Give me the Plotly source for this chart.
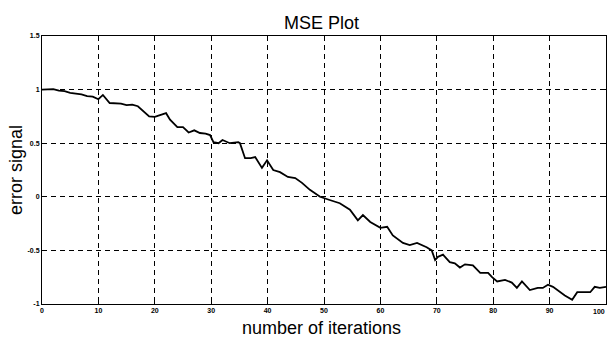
import plotly.graph_objects as go

iterations = [0, 1, 2, 3, 4, 5, 6, 7, 8, 9, 10, 10.8, 12, 13, 14, 15, 16, 17, 18, 19,
              20, 21, 22, 22.7, 24, 25, 26, 27, 28, 29, 29.8, 30.4, 31.3, 32, 33.3, 34.8,
              35.1, 36, 37, 37.8, 38.3, 39, 39.9, 40.4, 41, 42.2, 43.6, 44.9, 46.1, 47.5,
              48, 49.3, 51, 52.8, 54.6, 56, 56.9, 58.2, 60, 61.2, 62.2, 64, 65.2, 66.5,
              68.2, 69.1, 69.7, 70.2, 71.1, 72.3, 73.2, 74.1, 75, 76.4, 77.7, 79.1, 79.8,
              80.7, 82.1, 83.3, 84.2, 85.1, 86.5, 87.9, 88.8, 89.7, 90.6, 91.8, 92.7, 94,
              94.9, 96, 97.2, 98, 98.9, 100]
error_signal = [1.00, 1.00, 1.005, 0.99, 0.985, 0.97, 0.965, 0.955, 0.94, 0.935, 0.91, 0.95,
                0.875, 0.875, 0.87, 0.855, 0.86, 0.845, 0.80, 0.75, 0.745, 0.76, 0.78, 0.72,
                0.65, 0.65, 0.60, 0.62, 0.595, 0.59, 0.576, 0.51, 0.50, 0.53, 0.50, 0.51,
                0.50, 0.36, 0.36, 0.37, 0.33, 0.27, 0.34, 0.30, 0.25, 0.23, 0.185, 0.175,
                0.13, 0.065, 0.045, 0.0, -0.03, -0.06, -0.12, -0.22, -0.17, -0.235, -0.29,
                -0.28, -0.36, -0.43, -0.45, -0.43, -0.47, -0.50, -0.59, -0.56, -0.54, -0.61,
                -0.62, -0.66, -0.63, -0.64, -0.71, -0.71, -0.75, -0.79, -0.775, -0.80, -0.85,
                -0.79, -0.87, -0.85, -0.85, -0.82, -0.84, -0.89, -0.92, -0.96, -0.89, -0.89,
                -0.89, -0.84, -0.85, -0.84]

x_ticks = [0, 10, 20, 30, 40, 50, 60, 70, 80, 90, 100]
y_ticks = [-1, -0.5, 0, 0.5, 1, 1.5]
y_tick_text = ["-1", "-0.5", "0", "0.5", "1", "1.5"]

W, H = 607, 340
L, R, T, B = 42, 1, 36, 36

fig = go.Figure()
fig.add_trace(go.Scatter(x=iterations, y=error_signal, mode="lines",
                         line=dict(color="black", width=1.8), showlegend=False))

tick_font = dict(family="Liberation Sans", size=7, color="black", weight="bold")
axis_common = dict(showline=True, linecolor="black", linewidth=1, mirror="allticks",
                   ticks="inside", ticklen=4, tickcolor="black",
                   showgrid=True, gridcolor="black", gridwidth=1, griddash="5px,4px",
                   zeroline=False, tickfont=tick_font)

fig.update_xaxes(range=[0, 100], tickvals=x_ticks, ticktext=[str(v) for v in x_ticks],
                 **axis_common)
fig.update_yaxes(range=[-1, 1.5], tickvals=y_ticks, ticktext=y_tick_text, **axis_common)

def px_to_paper(px, py):
    return (px - L) / (W - L - R), (H - B - py) / (H - T - B)

ann = []
tx, ty = px_to_paper(321, 23)
ann.append(dict(text="MSE Plot", x=tx, y=ty, xref="paper", yref="paper", showarrow=False,
                xanchor="center", yanchor="middle",
                font=dict(family="Liberation Sans", size=18, color="black")))
tx, ty = px_to_paper(321, 328)
ann.append(dict(text="number of iterations", x=tx, y=ty, xref="paper", yref="paper",
                showarrow=False, xanchor="center", yanchor="middle",
                font=dict(family="Liberation Sans", size=18, color="black")))
tx, ty = px_to_paper(16, 170)
ann.append(dict(text="error signal", x=tx, y=ty, xref="paper", yref="paper",
                showarrow=False, xanchor="center", yanchor="middle", textangle=-90,
                font=dict(family="Liberation Sans", size=18, color="black")))
# last x tick label sits at the right edge; anchor it to the right so it stays visible
ann.append(dict(text=str(x_ticks[-1]), x=x_ticks[-1], y=0, xref="x", yref="paper",
                showarrow=False, xanchor="right", yanchor="top", yshift=-2, xshift=1,
                font=tick_font))

fig.update_layout(width=W, height=H, margin=dict(l=L, r=R, t=T, b=B, pad=0),
                  paper_bgcolor="white", plot_bgcolor="white", annotations=ann)

fig.write_html("out.html", config={"displayModeBar": False},
               post_script="document.body.style.margin='0';document.body.style.overflow='hidden';")
